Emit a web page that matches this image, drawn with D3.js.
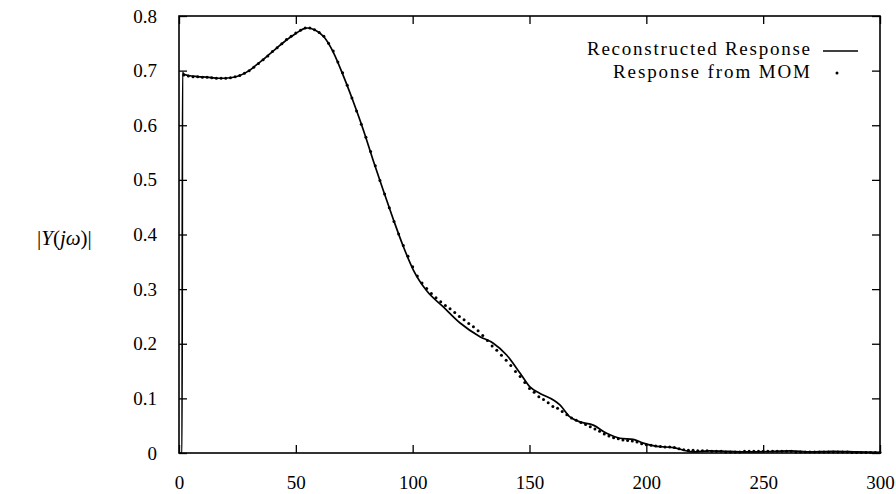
<!DOCTYPE html>
<html>
<head>
<meta charset="utf-8">
<script src="https://cdn.jsdelivr.net/npm/d3@7"></script>
<style>
body { margin: 0; background: #fff; }
text { font-family: "Liberation Serif", "Times New Roman", serif; fill: #000; }
</style>
</head>
<body>
<div id="chart"></div>
<script>
// reconstructed response (solid line)
let recX = [0, 1.3, 1.5, 2, 4, 8, 12, 17, 22, 26, 30, 33, 36, 39, 42, 46, 50, 53, 55, 58,
    62, 66, 70, 74.6, 79, 83, 87.4, 91.7, 96, 100.3, 106, 113, 120.3, 128.8, 134.5, 140.3,
    146, 150.2, 154.5, 160.2, 163, 167.3, 171.6, 177.3, 183, 188.7, 194.4, 198.7, 204.5,
    211.6, 216, 220, 227, 235, 245, 255, 262, 270, 280, 290, 300];
let recY = [0, 0, 0.697, 0.694, 0.691, 0.689, 0.688, 0.686, 0.687, 0.691, 0.700, 0.710,
    0.720, 0.731, 0.742, 0.756, 0.768, 0.776, 0.778, 0.775,
    0.762, 0.734, 0.694, 0.643, 0.590, 0.537, 0.481, 0.428, 0.378, 0.335, 0.297, 0.268,
    0.238, 0.213, 0.201, 0.179,
    0.146, 0.121, 0.109, 0.097, 0.088, 0.066, 0.057, 0.051, 0.036, 0.027, 0.025, 0.018,
    0.012, 0.010, 0.005, 0.002, 0.004, 0.003, 0.002, 0.003, 0.004, 0.002, 0.003, 0.002, 0.001];

// response from MOM (dots), one sample every 2 units from 2 to 300
let momX = d3.range(2, 301, 2);
let momY = [
    0.692, 0.690, 0.689, 0.689, 0.688, 0.688, 0.687, 0.686, 0.686, 0.686,
    0.687, 0.689, 0.691, 0.695, 0.700, 0.706, 0.713, 0.720, 0.727, 0.735,
    0.742, 0.749, 0.757, 0.763, 0.769, 0.774, 0.778, 0.778, 0.775, 0.770,
    0.763, 0.750, 0.736, 0.716, 0.696, 0.673, 0.650, 0.626, 0.602, 0.578,
    0.552, 0.526, 0.499, 0.474, 0.449, 0.424, 0.401, 0.380, 0.360, 0.341,
    0.324, 0.311, 0.301, 0.292, 0.284, 0.277, 0.270, 0.264, 0.257, 0.250,
    0.244, 0.237, 0.231, 0.224, 0.215, 0.206, 0.196, 0.188, 0.179, 0.170,
    0.160, 0.149, 0.140, 0.129, 0.118, 0.111, 0.103, 0.098, 0.092, 0.085,
    0.082, 0.076, 0.070, 0.064, 0.060, 0.056, 0.052, 0.048, 0.044, 0.040,
    0.035, 0.031, 0.028, 0.026, 0.024, 0.023, 0.022, 0.020, 0.017, 0.015,
    0.014, 0.013, 0.012, 0.011, 0.011, 0.010, 0.008, 0.006, 0.005, 0.005,
    0.004, 0.004, 0.004, 0.003, 0.003, 0.003, 0.002, 0.002, 0.002, 0.002,
    0.003, 0.003, 0.003, 0.003, 0.003, 0.003, 0.003, 0.003, 0.003, 0.003,
    0.003, 0.002, 0.002, 0.002, 0.002, 0.002, 0.002, 0.002, 0.002, 0.002,
    0.002, 0.002, 0.002, 0.001, 0.001, 0.001, 0.001, 0.001, 0.001, 0.001
];

let xTicks = [0, 50, 100, 150, 200, 250, 300];
let yTicks = [0, 0.1, 0.2, 0.3, 0.4, 0.5, 0.6, 0.7, 0.8];
let seriesNames = ["Reconstructed Response", "Response from MOM"];

let margin = {top: 16, right: 16, left: 179, bottom: 41};
let width = 896 - margin.left - margin.right;
let height = 494 - margin.top - margin.bottom;

let svg = d3.select("#chart")
    .append("svg")
    .attr("width", 896)
    .attr("height", 494);

let chart = svg.append("g")
    .attr("transform", "translate(" + margin.left + ", " + margin.top + ")");

let x = d3.scaleLinear().domain([0, 300]).range([0, width]);
let y = d3.scaleLinear().domain([0, 0.8]).range([height, 0]);

let tick = 8;

// axes: ticks point inward on all four sides
chart.append("g")
    .attr("transform", "translate(0," + height + ")")
    .call(d3.axisBottom(x).tickValues(xTicks).tickSize(-tick).tickPadding(tick + 15).tickFormat(d3.format("d")));
chart.append("g")
    .call(d3.axisTop(x).tickValues(xTicks).tickSize(-tick).tickFormat(""));
chart.append("g")
    .call(d3.axisLeft(y).tickValues(yTicks).tickSize(-tick).tickPadding(tick + 14).tickFormat(d => d === 0 ? "0" : d3.format(".1f")(d)));
chart.append("g")
    .attr("transform", "translate(" + width + ",0)")
    .call(d3.axisRight(y).tickValues(yTicks).tickSize(-tick).tickFormat(""));

chart.selectAll(".domain").remove();
chart.selectAll(".tick line").attr("stroke", "#000").attr("stroke-width", 1.3);
chart.selectAll(".tick text").style("font-size", "19px").attr("fill", "#000");

chart.append("rect")
    .attr("width", width)
    .attr("height", height)
    .attr("fill", "none")
    .attr("stroke", "#000")
    .attr("stroke-width", 1.6);

let recData = recX.map((d, i) => ({x: d, y: recY[i]}));
let momData = momX.map((d, i) => ({x: d, y: momY[i]}));

chart.append("path")
    .datum(recData)
    .attr("fill", "none")
    .attr("stroke", "#000")
    .attr("stroke-width", 1.7)
    .attr("d", d3.line()
        .x(d => x(d.x))
        .y(d => y(d.y))
        .curve(d3.curveMonotoneX));

chart.selectAll("circle.mom")
    .data(momData)
    .enter()
    .append("circle")
    .attr("class", "mom")
    .attr("cx", d => x(d.x))
    .attr("cy", d => y(d.y))
    .attr("r", 1.5)
    .attr("fill", "#000");

// legend
svg.append("text")
    .attr("x", 810)
    .attr("y", 55)
    .attr("text-anchor", "end")
    .attr("textLength", 223)
    .attr("lengthAdjust", "spacing")
    .style("font-size", "19px")
    .text(seriesNames[0]);
svg.append("line")
    .attr("x1", 823).attr("x2", 858)
    .attr("y1", 51).attr("y2", 51)
    .attr("stroke", "#000")
    .attr("stroke-width", 1.5);
svg.append("text")
    .attr("x", 810)
    .attr("y", 78)
    .attr("text-anchor", "end")
    .attr("textLength", 197)
    .attr("lengthAdjust", "spacing")
    .style("font-size", "19px")
    .text(seriesNames[1]);
svg.append("circle")
    .attr("cx", 837)
    .attr("cy", 73)
    .attr("r", 1.5)
    .attr("fill", "#000");

// y label |Y(jω)|
let ylab = svg.append("text")
    .attr("x", 37)
    .attr("y", 245)
    .style("font-size", "21px");
ylab.append("tspan").text("|");
ylab.append("tspan").style("font-style", "italic").text("Y");
ylab.append("tspan").text("(");
ylab.append("tspan").style("font-style", "italic").text("jω");
ylab.append("tspan").text(")|");
</script>
</body>
</html>
